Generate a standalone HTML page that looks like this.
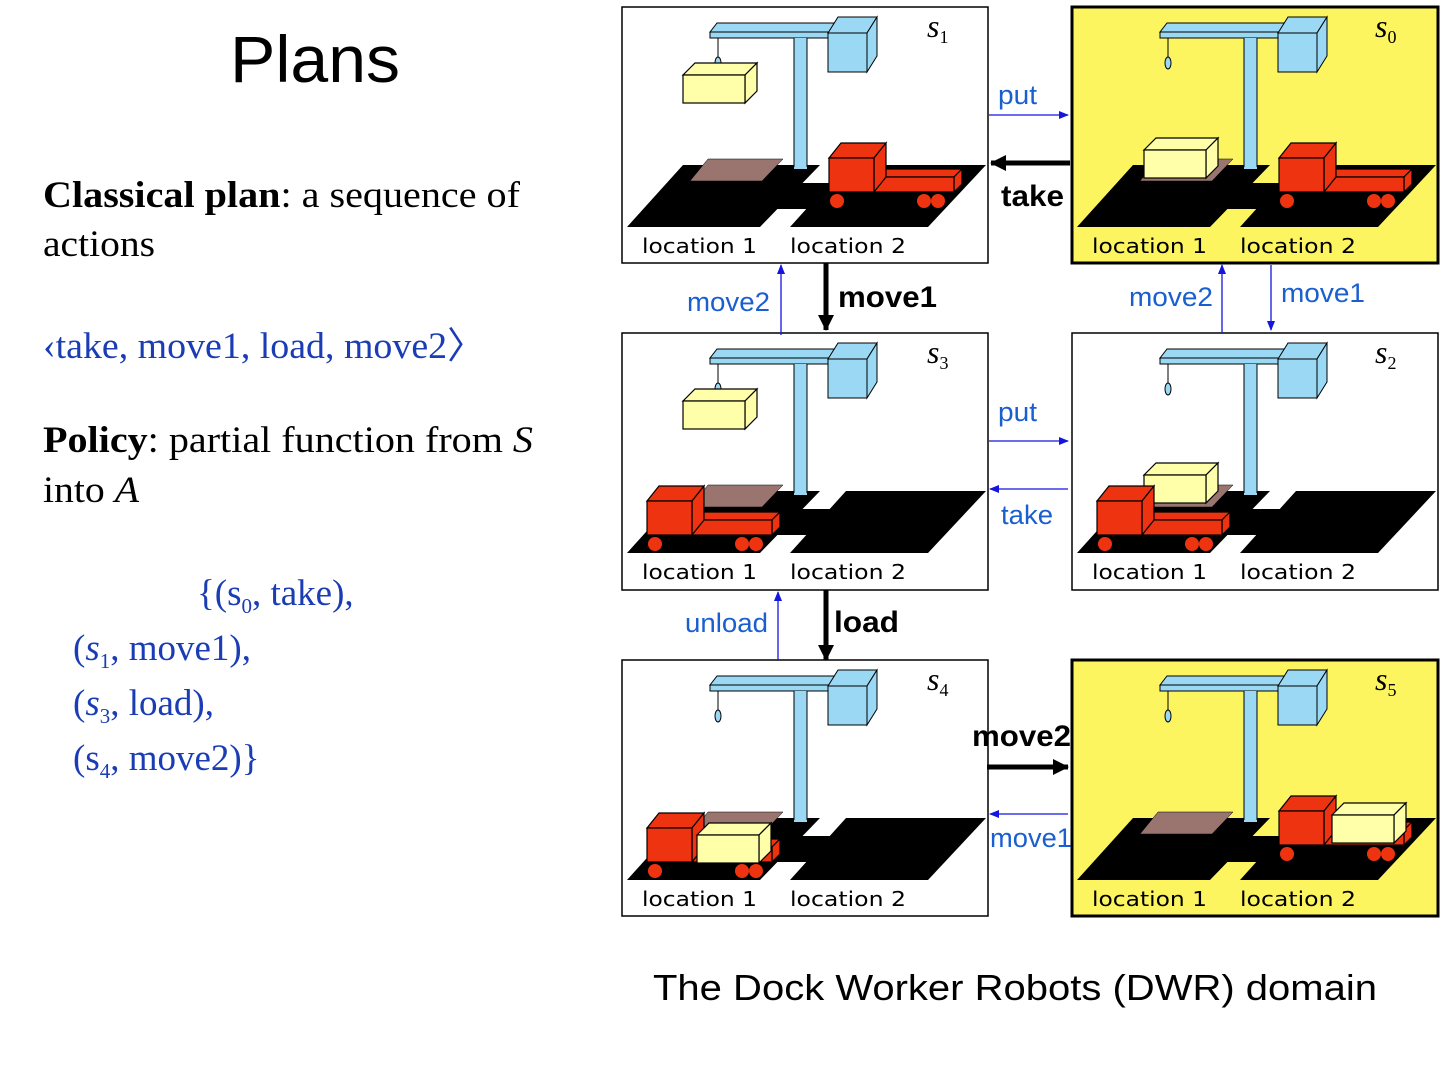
<!DOCTYPE html>
<html><head><meta charset="utf-8"><style>
html,body{margin:0;padding:0;background:#fff;}
svg{display:block;}
.t{font-family:"Liberation Serif",serif;font-size:37px;}
.b{fill:#1a3cb4;}
.loc{font-family:"DejaVu Sans",sans-serif;font-size:20px;fill:#000;}
.lab{font-family:"Liberation Sans",sans-serif;font-size:27px;fill:#1a5fd0;}
.bl{font-family:"Liberation Sans",sans-serif;font-size:30px;font-weight:bold;fill:#000;}
.sl{font-family:"Liberation Serif",serif;font-style:italic;font-size:32px;}
</style></head><body>
<svg width="1440" height="1080" viewBox="0 0 1440 1080" xmlns="http://www.w3.org/2000/svg">
<defs>
<g id="crane" stroke="#000" stroke-width="1">
  <polygon points="88,25 95,16 215,16 208,25" fill="#9ad8f4"/>
  <rect x="88" y="25" width="120" height="6" fill="#9ad8f4"/>
  <line x1="96" y1="31" x2="96" y2="50"/>
  <ellipse cx="96" cy="56" rx="3" ry="6" fill="#9ad8f4"/>
  <rect x="172" y="31" width="13" height="131" fill="#9ad8f4" stroke="none"/>
  <line x1="172" y1="31" x2="172" y2="160"/><line x1="185" y1="31" x2="185" y2="160"/>
  <polygon points="206,26 216,10 255,10 245,26" fill="#9ad8f4"/>
  <polygon points="245,26 255,10 255,49 245,65" fill="#9ad8f4"/>
  <rect x="206" y="26" width="39" height="39" fill="#9ad8f4"/>
</g>
<g id="floor" fill="#000">
  <polygon points="5,220 61,158 198,158 138,220"/>
  <polygon points="168,220 224,158 364,158 306,220"/>
  <rect x="130" y="176" width="80" height="26"/>
</g>
<g id="pallet"><polygon points="68,174 86,152 161,152 140,174" fill="#9a7570" stroke="#000" stroke-width="0.5"/></g>
<g id="cont" stroke="#000" stroke-width="1.2" fill="#ffffaa">
  <polygon points="0,0 12,-12 74,-12 62,0"/>
  <polygon points="62,0 74,-12 74,16 62,28"/>
  <rect x="0" y="0" width="62" height="28"/>
</g>
<g id="truck" stroke="#000" stroke-width="1.2" fill="#ee3311">
  <polygon points="252,170 260,162 340,162 332,170"/>
  <polygon points="332,170 340,162 340,177 332,185"/>
  <rect x="252" y="170" width="80" height="15"/>
  <polygon points="207,151 219,136 264,136 252,151"/>
  <polygon points="252,151 264,136 264,170 252,185"/>
  <rect x="207" y="151" width="45" height="34"/>
  <circle cx="215" cy="194" r="7" stroke="none"/>
  <circle cx="302" cy="194" r="7" stroke="none"/>
  <circle cx="316" cy="194" r="7" stroke="none"/>
</g>
<g id="labels">
  <text class="loc" x="20" y="246" textLength="115" lengthAdjust="spacingAndGlyphs">location 1</text>
  <text class="loc" x="168" y="246" textLength="116" lengthAdjust="spacingAndGlyphs">location 2</text>
</g>
<marker id="ab" markerWidth="10" markerHeight="8" refX="9" refY="4" orient="auto" markerUnits="userSpaceOnUse"><path d="M0,0 L10,4 L0,8 z" fill="#1515e0"/></marker>
<marker id="ak" markerWidth="16" markerHeight="16" refX="15" refY="8" orient="auto" markerUnits="userSpaceOnUse"><path d="M0,0 L16,8 L0,16 z" fill="#000"/></marker>
</defs>

<!-- Left text -->
<text x="230" y="82" font-family="Liberation Sans, sans-serif" font-size="66" textLength="170" lengthAdjust="spacingAndGlyphs">Plans</text>
<text class="t" x="43" y="207" textLength="477" lengthAdjust="spacingAndGlyphs"><tspan font-weight="bold">Classical plan</tspan>: a sequence of</text>
<text class="t" x="43" y="256" textLength="112" lengthAdjust="spacingAndGlyphs">actions</text>
<text class="t b" x="43" y="358" textLength="442" lengthAdjust="spacingAndGlyphs">‹take, move1, load, move2〉</text>
<text class="t" x="43" y="452" textLength="490" lengthAdjust="spacingAndGlyphs"><tspan font-weight="bold">Policy</tspan>: partial function from <tspan font-style="italic">S</tspan></text>
<text class="t" x="43" y="502" textLength="96" lengthAdjust="spacingAndGlyphs">into <tspan font-style="italic">A</tspan></text>
<text class="t b" x="197" y="605">{(s<tspan font-size="21" dy="8">0</tspan><tspan dy="-8">, take),</tspan></text>
<text class="t b" x="73" y="660">(<tspan font-style="italic">s</tspan><tspan font-size="21" dy="8">1</tspan><tspan dy="-8">, move1),</tspan></text>
<text class="t b" x="73" y="715">(<tspan font-style="italic">s</tspan><tspan font-size="21" dy="8">3</tspan><tspan dy="-8">, load),</tspan></text>
<text class="t b" x="73" y="770">(s<tspan font-size="21" dy="8">4</tspan><tspan dy="-8">, move2)}</tspan></text>

<!-- s1 -->
<g transform="translate(622,7)">
  <rect x="0" y="0" width="366" height="256" fill="#fff" stroke="#000" stroke-width="1.5"/>
  <use href="#floor"/><use href="#pallet"/><use href="#crane"/>
  <use href="#cont" transform="translate(61,68)"/>
  <use href="#truck"/><use href="#labels"/>
  <text class="sl" x="305" y="30">s<tspan font-size="18" dy="6" font-style="normal">1</tspan></text>
</g>
<!-- s0 -->
<g transform="translate(1072,7)">
  <rect x="0" y="0" width="366" height="256" fill="#fcf55f" stroke="#000" stroke-width="3"/>
  <use href="#floor"/><use href="#pallet"/><use href="#crane"/>
  <use href="#cont" transform="translate(72,143)"/>
  <use href="#truck"/><use href="#labels"/>
  <text class="sl" x="303" y="30">s<tspan font-size="18" dy="6" font-style="normal">0</tspan></text>
</g>
<!-- s3 -->
<g transform="translate(622,333)">
  <rect x="0" y="0" width="366" height="257" fill="#fff" stroke="#000" stroke-width="1.5"/>
  <use href="#floor"/><use href="#pallet"/><use href="#crane"/>
  <use href="#cont" transform="translate(61,68)"/>
  <use href="#truck" transform="translate(-182,17)"/><use href="#labels"/>
  <text class="sl" x="305" y="30">s<tspan font-size="18" dy="6" font-style="normal">3</tspan></text>
</g>
<!-- s2 -->
<g transform="translate(1072,333)">
  <rect x="0" y="0" width="366" height="257" fill="#fff" stroke="#000" stroke-width="1.5"/>
  <use href="#floor"/><use href="#pallet"/><use href="#crane"/>
  <use href="#cont" transform="translate(72,142)"/>
  <use href="#truck" transform="translate(-182,17)"/><use href="#labels"/>
  <text class="sl" x="303" y="30">s<tspan font-size="18" dy="6" font-style="normal">2</tspan></text>
</g>
<!-- s4 -->
<g transform="translate(622,660)">
  <rect x="0" y="0" width="366" height="256" fill="#fff" stroke="#000" stroke-width="1.5"/>
  <use href="#floor"/><use href="#pallet"/><use href="#crane"/>
  <use href="#truck" transform="translate(-182,17)"/>
  <use href="#cont" transform="translate(75,175)"/>
  <use href="#labels"/>
  <text class="sl" x="305" y="30">s<tspan font-size="18" dy="6" font-style="normal">4</tspan></text>
</g>
<!-- s5 -->
<g transform="translate(1072,660)">
  <rect x="0" y="0" width="366" height="256" fill="#fcf55f" stroke="#000" stroke-width="3"/>
  <use href="#floor"/><use href="#pallet"/><use href="#crane"/>
  <use href="#truck"/>
  <use href="#cont" transform="translate(260,155)"/>
  <use href="#labels"/>
  <text class="sl" x="303" y="30">s<tspan font-size="18" dy="6" font-style="normal">5</tspan></text>
</g>

<!-- connectors -->
<g stroke-width="1.3" stroke="#1515e0" fill="none">
  <line x1="989" y1="115" x2="1068" y2="115" marker-end="url(#ab)"/>
  <line x1="781" y1="335" x2="781" y2="265" marker-end="url(#ab)"/>
  <line x1="1222" y1="333" x2="1222" y2="265" marker-end="url(#ab)"/>
  <line x1="1271" y1="265" x2="1271" y2="330" marker-end="url(#ab)"/>
  <line x1="989" y1="441" x2="1068" y2="441" marker-end="url(#ab)"/>
  <line x1="1068" y1="489" x2="990" y2="489" marker-end="url(#ab)"/>
  <line x1="778" y1="660" x2="778" y2="592" marker-end="url(#ab)"/>
  <line x1="1068" y1="814" x2="990" y2="814" marker-end="url(#ab)"/>
</g>
<g stroke-width="5" stroke="#000" fill="none">
  <line x1="1070" y1="163" x2="991" y2="163" marker-end="url(#ak)"/>
  <line x1="826" y1="263" x2="826" y2="330" marker-end="url(#ak)"/>
  <line x1="826" y1="590" x2="826" y2="660" marker-end="url(#ak)"/>
  <line x1="987" y1="767" x2="1068" y2="767" marker-end="url(#ak)"/>
</g>
<text class="lab" x="998" y="104" textLength="39" lengthAdjust="spacingAndGlyphs">put</text>
<text class="bl" x="1001" y="206" textLength="63" lengthAdjust="spacingAndGlyphs">take</text>
<text class="bl" x="838" y="307" textLength="99" lengthAdjust="spacingAndGlyphs">move1</text>
<text class="lab" x="687" y="311" textLength="83" lengthAdjust="spacingAndGlyphs">move2</text>
<text class="lab" x="1129" y="306" textLength="84" lengthAdjust="spacingAndGlyphs">move2</text>
<text class="lab" x="1281" y="302" textLength="84" lengthAdjust="spacingAndGlyphs">move1</text>
<text class="lab" x="998" y="421" textLength="39" lengthAdjust="spacingAndGlyphs">put</text>
<text class="lab" x="1001" y="524" textLength="52" lengthAdjust="spacingAndGlyphs">take</text>
<text class="lab" x="685" y="632" textLength="83" lengthAdjust="spacingAndGlyphs">unload</text>
<text class="bl" x="834" y="632" textLength="65" lengthAdjust="spacingAndGlyphs">load</text>
<text class="bl" x="972" y="746" textLength="99" lengthAdjust="spacingAndGlyphs">move2</text>
<text class="lab" x="990" y="847" textLength="82" lengthAdjust="spacingAndGlyphs">move1</text>

<text x="653" y="1000" font-family="Liberation Sans, sans-serif" font-size="36" textLength="724" lengthAdjust="spacingAndGlyphs">The Dock Worker Robots (DWR) domain</text>
</svg>
</body></html>
